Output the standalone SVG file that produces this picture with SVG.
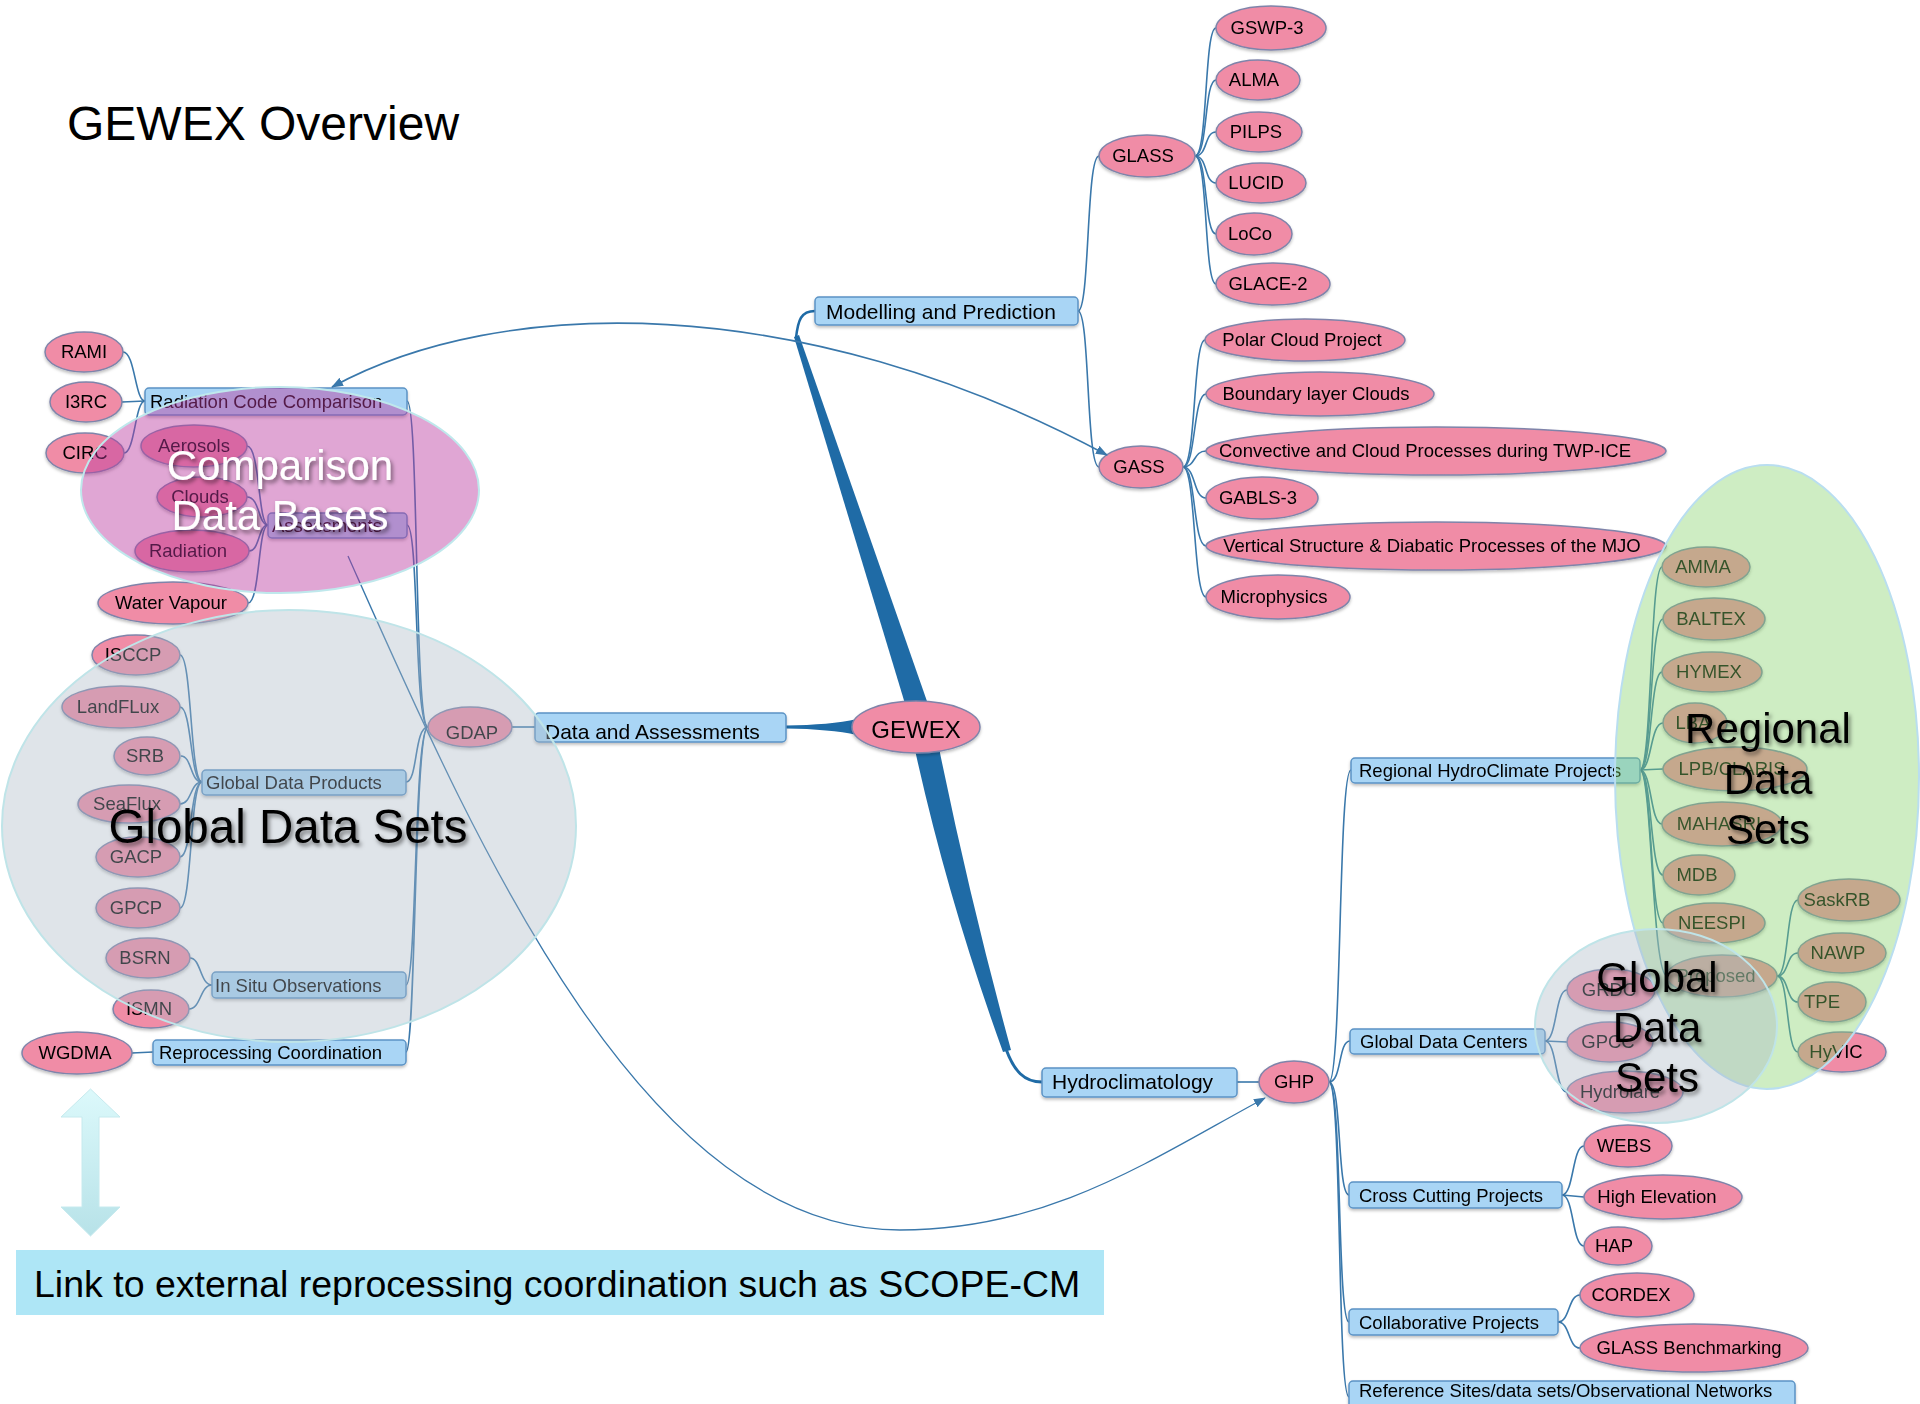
<svg xmlns="http://www.w3.org/2000/svg" width="1920" height="1404" viewBox="0 0 1920 1404">
<defs>
<style>
.n ellipse{fill:#f08ca6;stroke:#7f84aa;stroke-width:1.5}
.n text,.b text{font-family:"Liberation Sans",Arial,sans-serif;font-size:18.5px;fill:#000}
.n text{text-anchor:middle}
.b rect{fill:#a9d5f5;stroke:#5b93c5;stroke-width:1.5}
.b.l1 text{font-size:21px}
.c path{fill:none;stroke:#3a78ab;stroke-width:1.6}
.big{font-family:"Liberation Sans",Arial,sans-serif;text-anchor:middle;font-size:42px}
.ov{stroke-width:2}
</style>
<marker id="arr" viewBox="0 0 12 10" refX="11" refY="5" markerWidth="12" markerHeight="10" markerUnits="userSpaceOnUse" orient="auto-start-reverse"><path d="M0,0.5 L12,5 L0,9.5 z" fill="#3a78ab"/></marker>
<filter id="ns" x="-10%" y="-10%" width="120%" height="130%"><feDropShadow dx="0" dy="2" stdDeviation="1.5" flood-color="#000" flood-opacity="0.25"/></filter>
<filter id="ts" x="-10%" y="-20%" width="120%" height="150%"><feDropShadow dx="2" dy="3" stdDeviation="2" flood-color="#000" flood-opacity="0.5"/></filter>
<linearGradient id="dg" x1="0" y1="0" x2="0" y2="1"><stop offset="0" stop-color="#dcf9fb"/><stop offset="1" stop-color="#b7e2e8"/></linearGradient>
</defs>
<rect width="1920" height="1404" fill="#ffffff"/>

<g id="connectors">
<g class="c">
<path d="M145 401 C135 401 135 352 123 352"/>
<path d="M145 401 L122 402"/>
<path d="M145 401 C135 401 135 453 124 453"/>
<path d="M268 525 C258 525 260 446 247 446"/>
<path d="M268 525 C258 525 260 497 247 497"/>
<path d="M268 525 C258 525 260 551 249 551"/>
<path d="M268 525 C258 525 260 603 248 603"/>
<path d="M202 782 C190 782 192 655 180 655"/>
<path d="M202 782 C190 782 192 707 180 707"/>
<path d="M202 782 C190 782 192 756 181 756"/>
<path d="M202 782 C190 782 192 804 180 804"/>
<path d="M202 782 C190 782 192 857 180 857"/>
<path d="M202 782 C190 782 192 908 180 908"/>
<path d="M212 985 C200 985 201 958 190 958"/>
<path d="M212 985 C200 985 201 1009 189 1009"/>
<path d="M153 1052 L132 1053"/>
<path d="M428 727 C414 727 419 401 407 401"/>
<path d="M428 727 C414 727 419 525 407 525"/>
<path d="M428 727 C414 727 418 782 406 782"/>
<path d="M428 727 C414 727 417 985 406 985"/>
<path d="M428 727 C414 727 416 1052 406 1052"/>
<path d="M535 727 L512 727"/>
<path d="M1078 311 C1090 311 1086 156 1099 156"/>
<path d="M1078 311 C1090 311 1086 467 1099 467"/>
<path d="M1195 156 C1208 156 1204 28 1216 28"/>
<path d="M1195 156 C1208 156 1204 80 1216 80"/>
<path d="M1195 156 C1208 156 1204 132 1216 132"/>
<path d="M1195 156 C1208 156 1204 183 1216 183"/>
<path d="M1195 156 C1208 156 1204 234 1216 234"/>
<path d="M1195 156 C1208 156 1204 284 1216 284"/>
<path d="M1183 467 C1196 467 1193 340 1205 340"/>
<path d="M1183 467 C1196 467 1193 394 1206 394"/>
<path d="M1183 467 C1196 467 1193 451 1206 451"/>
<path d="M1183 467 C1196 467 1193 498 1206 498"/>
<path d="M1183 467 C1196 467 1193 546 1206 546"/>
<path d="M1183 467 C1196 467 1193 597 1206 597"/>
<path d="M1237 1082 L1259 1082"/>
<path d="M1329 1082 C1342 1082 1338 770 1351 770"/>
<path d="M1329 1082 C1342 1082 1338 1041 1350 1041"/>
<path d="M1329 1082 C1342 1082 1337 1195 1349 1195"/>
<path d="M1329 1082 C1342 1082 1337 1322 1349 1322"/>
<path d="M1329 1082 C1342 1082 1337 1397 1349 1397"/>
<path d="M1640 770 C1652 770 1650 567 1662 567"/>
<path d="M1640 770 C1652 770 1650 619 1663 619"/>
<path d="M1640 770 C1652 770 1650 672 1662 672"/>
<path d="M1640 770 C1652 770 1650 723 1663 723"/>
<path d="M1640 770 C1652 770 1650 769 1663 769"/>
<path d="M1640 770 C1652 770 1650 824 1662 824"/>
<path d="M1640 770 C1652 770 1650 875 1663 875"/>
<path d="M1640 770 C1652 770 1650 923 1663 923"/>
<path d="M1640 770 C1652 770 1652 976 1667 976"/>
<path d="M1777 976 C1789 976 1786 900 1798 900"/>
<path d="M1777 976 C1789 976 1786 953 1798 953"/>
<path d="M1777 976 C1789 976 1786 1002 1798 1002"/>
<path d="M1777 976 C1789 976 1786 1052 1798 1052"/>
<path d="M1545 1041 C1557 1041 1555 990 1567 990"/>
<path d="M1545 1041 L1567 1042"/>
<path d="M1545 1041 C1557 1041 1555 1092 1567 1092"/>
<path d="M1562 1195 C1574 1195 1572 1146 1584 1146"/>
<path d="M1562 1195 L1584 1197"/>
<path d="M1562 1195 C1574 1195 1572 1246 1584 1246"/>
<path d="M1558 1322 C1570 1322 1568 1295 1580 1295"/>
<path d="M1558 1322 C1570 1322 1568 1348 1580 1348"/>
</g>
<g id="branches" fill="#1f6ba6" stroke="none">
<path d="M906 707 L794 337 L799 335 L929 707 Z"/>
<path d="M915 750 Q948 900 1003 1052 L1011 1050 Q970 900 939 748 Z"/>
<path d="M786 725.5 L786 728.5 Q830 729 857 735 L857 719 Q830 725 786 725.5 Z"/>
<path d="M796 338 C798 320 801 311 815 311" fill="none" stroke="#1f6ba6" stroke-width="2.5"/>
<path d="M1006 1049 C1014 1071 1024 1082 1042 1082" fill="none" stroke="#1f6ba6" stroke-width="3"/>
</g>
</g>

<g id="nodes" filter="url(#ns)">
<g id="n-rami" class="n"><ellipse cx="84" cy="352" rx="39" ry="20"/><text x="84" y="357.5">RAMI</text></g>
<g id="n-i3rc" class="n"><ellipse cx="86" cy="402" rx="36" ry="20"/><text x="86" y="407.5">I3RC</text></g>
<g id="n-circ" class="n"><ellipse cx="85" cy="453" rx="39" ry="20"/><text x="85" y="458.5">CIRC</text></g>
<g id="n-aerosols" class="n"><ellipse cx="194" cy="446" rx="53" ry="21"/><text x="194" y="451.5">Aerosols</text></g>
<g id="n-clouds" class="n"><ellipse cx="202" cy="497" rx="45" ry="20"/><text x="200" y="502.5">Clouds</text></g>
<g id="n-radiation" class="n"><ellipse cx="192" cy="551" rx="57" ry="21"/><text x="188" y="556.5">Radiation</text></g>
<g id="n-watervapour" class="n"><ellipse cx="173" cy="603" rx="75" ry="21"/><text x="171" y="608.5">Water Vapour</text></g>
<g id="n-isccp" class="n"><ellipse cx="136" cy="655" rx="44" ry="20"/><text x="133" y="660.5">ISCCP</text></g>
<g id="n-landflux" class="n"><ellipse cx="121" cy="707" rx="59" ry="21"/><text x="118" y="712.5">LandFLux</text></g>
<g id="n-srb" class="n"><ellipse cx="147" cy="756" rx="33" ry="19"/><text x="145" y="761.5">SRB</text></g>
<g id="n-seaflux" class="n"><ellipse cx="129" cy="804" rx="51" ry="19"/><text x="127" y="809.5">SeaFlux</text></g>
<g id="n-gacp" class="n"><ellipse cx="138" cy="857" rx="42" ry="20"/><text x="136" y="862.5">GACP</text></g>
<g id="n-gpcp" class="n"><ellipse cx="138" cy="908" rx="42" ry="20"/><text x="136" y="913.5">GPCP</text></g>
<g id="n-bsrn" class="n"><ellipse cx="148" cy="958" rx="42" ry="20"/><text x="145" y="963.5">BSRN</text></g>
<g id="n-ismn" class="n"><ellipse cx="151" cy="1009" rx="38" ry="19"/><text x="149" y="1014.5">ISMN</text></g>
<g id="n-wgdma" class="n"><ellipse cx="77" cy="1053" rx="55" ry="21"/><text x="75" y="1058.5">WGDMA</text></g>
<g id="n-gdap" class="n"><ellipse cx="470" cy="727" rx="42" ry="20"/><text x="472" y="739">GDAP</text></g>
<g id="n-gewex" class="n"><ellipse cx="916" cy="727" rx="64" ry="26"/><text x="916" y="738" style="font-size:24px">GEWEX</text></g>
<g id="n-glass" class="n"><ellipse cx="1147" cy="156" rx="48" ry="21"/><text x="1143" y="161.5">GLASS</text></g>
<g id="n-gswp3" class="n"><ellipse cx="1271" cy="28" rx="55" ry="22"/><text x="1267" y="33.5">GSWP-3</text></g>
<g id="n-alma" class="n"><ellipse cx="1258" cy="80" rx="42" ry="20"/><text x="1254" y="85.5">ALMA</text></g>
<g id="n-pilps" class="n"><ellipse cx="1259" cy="132" rx="43" ry="20"/><text x="1256" y="137.5">PILPS</text></g>
<g id="n-lucid" class="n"><ellipse cx="1261" cy="183" rx="45" ry="20"/><text x="1256" y="188.5">LUCID</text></g>
<g id="n-loco" class="n"><ellipse cx="1254" cy="234" rx="38" ry="21"/><text x="1250" y="239.5">LoCo</text></g>
<g id="n-glace2" class="n"><ellipse cx="1273" cy="284" rx="57" ry="21"/><text x="1268" y="289.5">GLACE-2</text></g>
<g id="n-gass" class="n"><ellipse cx="1141" cy="467" rx="42" ry="21"/><text x="1139" y="472.5">GASS</text></g>
<g id="n-polar" class="n"><ellipse cx="1305" cy="340" rx="100" ry="21"/><text x="1302" y="345.5">Polar Cloud Project</text></g>
<g id="n-blc" class="n"><ellipse cx="1320" cy="394" rx="114" ry="22"/><text x="1316" y="399.5">Boundary layer Clouds</text></g>
<g id="n-convective" class="n"><ellipse cx="1436" cy="451" rx="230" ry="24"/><text x="1425" y="456.5">Convective and Cloud Processes during TWP-ICE</text></g>
<g id="n-gabls3" class="n"><ellipse cx="1262" cy="498" rx="56" ry="21"/><text x="1258" y="503.5">GABLS-3</text></g>
<g id="n-vertical" class="n"><ellipse cx="1436" cy="546" rx="230" ry="24"/><text x="1432" y="551.5">Vertical Structure &amp; Diabatic Processes of the MJO</text></g>
<g id="n-micro" class="n"><ellipse cx="1278" cy="597" rx="72" ry="22"/><text x="1274" y="602.5">Microphysics</text></g>
<g id="n-ghp" class="n"><ellipse cx="1294" cy="1082" rx="35" ry="21"/><text x="1294" y="1087.5">GHP</text></g>
<g id="n-amma" class="n"><ellipse cx="1706" cy="567" rx="44" ry="20"/><text x="1703" y="572.5">AMMA</text></g>
<g id="n-baltex" class="n"><ellipse cx="1714" cy="619" rx="51" ry="21"/><text x="1711" y="624.5">BALTEX</text></g>
<g id="n-hymex" class="n"><ellipse cx="1712" cy="672" rx="50" ry="20"/><text x="1709" y="677.5">HYMEX</text></g>
<g id="n-lba" class="n"><ellipse cx="1695" cy="723" rx="32" ry="20"/><text x="1693" y="728.5">LBA</text></g>
<g id="n-lpb" class="n"><ellipse cx="1735" cy="769" rx="72" ry="22"/><text x="1732" y="774.5">LPB/CLARIS</text></g>
<g id="n-mahasri" class="n"><ellipse cx="1722" cy="824" rx="60" ry="22"/><text x="1719" y="829.5">MAHASRI</text></g>
<g id="n-mdb" class="n"><ellipse cx="1699" cy="875" rx="36" ry="20"/><text x="1697" y="880.5">MDB</text></g>
<g id="n-neespi" class="n"><ellipse cx="1714" cy="923" rx="51" ry="20"/><text x="1712" y="928.5">NEESPI</text></g>
<g id="n-proposed" class="n"><ellipse cx="1722" cy="976" rx="55" ry="21"/><text x="1716" y="981.5">Proposed</text></g>
<g id="n-saskrb" class="n"><ellipse cx="1849" cy="900" rx="51" ry="21"/><text x="1837" y="905.5">SaskRB</text></g>
<g id="n-nawp" class="n"><ellipse cx="1842" cy="953" rx="44" ry="20"/><text x="1838" y="958.5">NAWP</text></g>
<g id="n-tpe" class="n"><ellipse cx="1832" cy="1002" rx="34" ry="20"/><text x="1822" y="1007.5">TPE</text></g>
<g id="n-hyvic" class="n"><ellipse cx="1842" cy="1052" rx="44" ry="20"/><text x="1836" y="1057.5">HyVIC</text></g>
<g id="n-grdc" class="n"><ellipse cx="1611" cy="990" rx="44" ry="21"/><text x="1609" y="995.5">GRDC</text></g>
<g id="n-gpcc" class="n"><ellipse cx="1610" cy="1042" rx="43" ry="20"/><text x="1608" y="1047.5">GPCC</text></g>
<g id="n-hydrolare" class="n"><ellipse cx="1625" cy="1092" rx="58" ry="21"/><text x="1620" y="1097.5">Hydrolare</text></g>
<g id="n-webs" class="n"><ellipse cx="1628" cy="1146" rx="44" ry="21"/><text x="1624" y="1151.5">WEBS</text></g>
<g id="n-highelev" class="n"><ellipse cx="1663" cy="1197" rx="79" ry="22"/><text x="1657" y="1202.5">High Elevation</text></g>
<g id="n-hap" class="n"><ellipse cx="1618" cy="1246" rx="34" ry="19"/><text x="1614" y="1251.5">HAP</text></g>
<g id="n-cordex" class="n"><ellipse cx="1637" cy="1295" rx="57" ry="22"/><text x="1631" y="1300.5">CORDEX</text></g>
<g id="n-glassbench" class="n"><ellipse cx="1694" cy="1348" rx="114" ry="24"/><text x="1689" y="1353.5">GLASS Benchmarking</text></g>

<g id="b-rcc" class="b"><rect x="145" y="388" width="262" height="27" rx="4"/><text x="150" y="408">Radiation Code Comparison</text></g>
<g id="b-assess" class="b"><rect x="268" y="513" width="139" height="25" rx="4"/><text x="272" y="532">Assessments</text></g>
<g id="b-gdp" class="b"><rect x="202" y="770" width="204" height="25" rx="4"/><text x="206" y="789">Global Data Products</text></g>
<g id="b-insitu" class="b"><rect x="212" y="972" width="194" height="26" rx="4"/><text x="215" y="991.5">In Situ Observations</text></g>
<g id="b-reproc" class="b"><rect x="153" y="1040" width="253" height="25" rx="4"/><text x="159" y="1059">Reprocessing Coordination</text></g>
<g id="b-daa" class="b l1"><rect x="535" y="713" width="251" height="29" rx="4"/><text x="545" y="739">Data and Assessments</text></g>
<g id="b-mp" class="b l1"><rect x="815" y="297" width="263" height="28" rx="4"/><text x="826" y="318.5">Modelling and Prediction</text></g>
<g id="b-hydro" class="b l1"><rect x="1042" y="1068" width="195" height="29" rx="4"/><text x="1052" y="1089">Hydroclimatology</text></g>
<g id="b-rhp" class="b"><rect x="1351" y="758" width="289" height="25" rx="4"/><text x="1359" y="777">Regional HydroClimate Projects</text></g>
<g id="b-gdc" class="b"><rect x="1350" y="1029" width="195" height="25" rx="4"/><text x="1360" y="1048">Global Data Centers</text></g>
<g id="b-ccp" class="b"><rect x="1349" y="1182" width="213" height="26" rx="4"/><text x="1359" y="1201.5">Cross Cutting Projects</text></g>
<g id="b-collab" class="b"><rect x="1349" y="1309" width="209" height="26" rx="4"/><text x="1359" y="1328.5">Collaborative Projects</text></g>
<g id="b-refsites" class="b"><rect x="1349" y="1381" width="446" height="32" rx="4"/><text x="1359" y="1397">Reference Sites/data sets/Observational Networks</text></g>
</g>

<g id="links" fill="none" stroke="#3a78ab">
<path d="M332 387 C500 295 800 290 1107 455" stroke-width="1.6" marker-start="url(#arr)" marker-end="url(#arr)"/>
<path d="M348 556 C470 830 640 1230 900 1230 C1050 1230 1150 1160 1265 1098" stroke-width="1.3" marker-end="url(#arr)"/>
</g>

<g id="overlays">
<ellipse id="ov-global-left" class="ov" cx="289" cy="826" rx="287" ry="216" fill="rgb(170,183,196)" fill-opacity="0.38" stroke="#bfe4e8"/>
<ellipse id="ov-comparison" class="ov" cx="280" cy="490" rx="199" ry="103" fill="rgb(186,57,159)" fill-opacity="0.45" stroke="#bfe8ec"/>
<ellipse id="ov-regional" class="ov" cx="1767" cy="777" rx="152" ry="312" fill="rgb(132,210,105)" fill-opacity="0.4" stroke="#b9def0"/>
<ellipse id="ov-global-right" class="ov" cx="1656" cy="1026" rx="121" ry="97" fill="rgb(170,183,196)" fill-opacity="0.38" stroke="#bfe4e8"/>
</g>

<g id="overlay-labels" filter="url(#ts)">
<text class="big" x="288" y="843" style="font-size:47.5px" fill="#000">Global Data Sets</text>
<text class="big" x="280" y="480" fill="#fff">Comparison</text>
<text class="big" x="280" y="530" fill="#fff">Data Bases</text>
<text class="big" x="1768" y="743" fill="#000">Regional</text>
<text class="big" x="1768" y="794" fill="#000">Data</text>
<text class="big" x="1768" y="844" fill="#000">Sets</text>
<text class="big" x="1657" y="992" fill="#000">Global</text>
<text class="big" x="1657" y="1042" fill="#000">Data</text>
<text class="big" x="1657" y="1092" fill="#000">Sets</text>
</g>

<text id="title" x="67" y="140" font-family="'Liberation Sans', Arial, sans-serif" font-size="48" fill="#000">GEWEX Overview</text>

<g id="double-arrow">
<polygon points="90.5,1089 120,1117 99,1117 99,1207 120,1207 90.5,1236 61,1207 82,1207 82,1117 61,1117" fill="url(#dg)" stroke="#c6eaee" stroke-width="1"/>
</g>

<g id="note">
<rect x="16" y="1250" width="1088" height="65" fill="#aee6f6"/>
<text x="34" y="1297" font-family="'Liberation Sans', Arial, sans-serif" font-size="37.5" fill="#000">Link to external reprocessing coordination such as SCOPE-CM</text>
</g>
</svg>
